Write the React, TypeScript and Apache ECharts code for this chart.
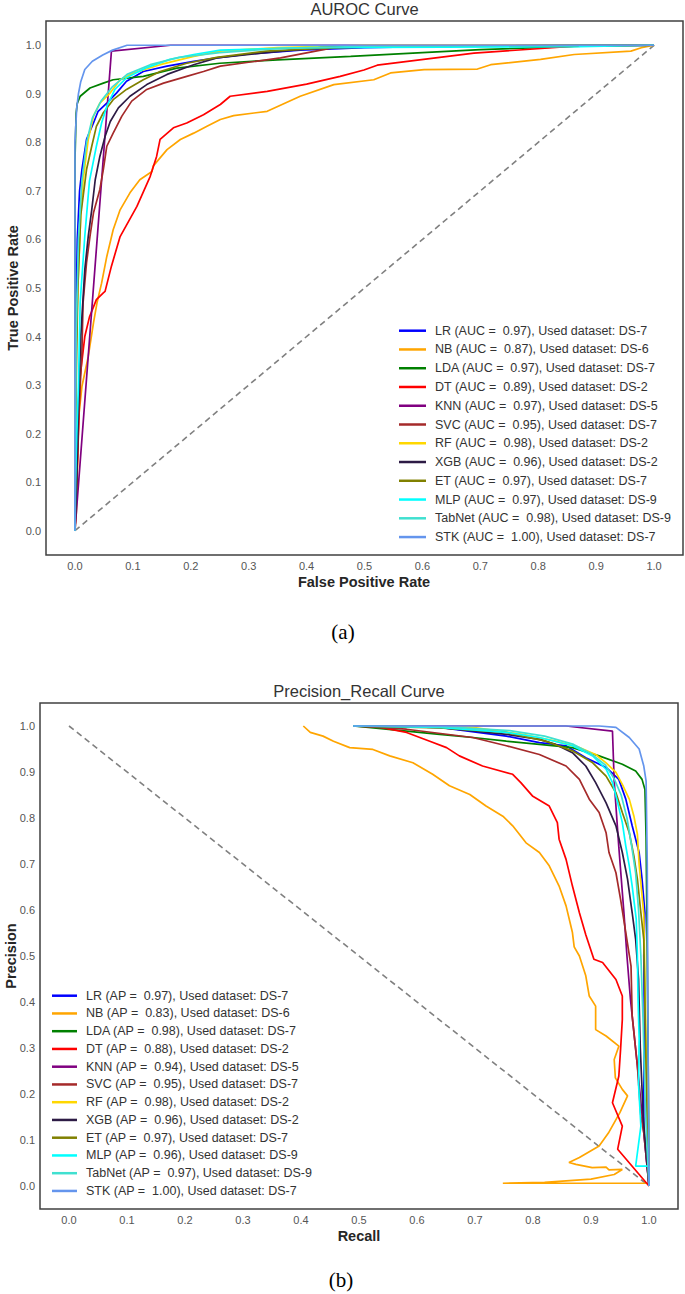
import React, { useEffect, useRef } from "react";
import * as echarts from "echarts";

const models = ["LR", "NB", "LDA", "DT", "KNN", "SVC", "RF", "XGB", "ET", "MLP", "TabNet", "STK"];
const colors = ["#0000FF", "#FFA500", "#008000", "#FF0000", "#800080", "#A52A2A", "#FFD700", "#2D1B45", "#808000", "#00FFFF", "#40E0D0", "#6495ED"];
const aucValues = ["0.97", "0.87", "0.97", "0.89", "0.97", "0.95", "0.98", "0.96", "0.97", "0.97", "0.98", "1.00"];
const apValues = ["0.97", "0.83", "0.98", "0.88", "0.94", "0.95", "0.98", "0.96", "0.97", "0.96", "0.97", "1.00"];
const datasets = ["DS-7", "DS-6", "DS-7", "DS-2", "DS-5", "DS-7", "DS-2", "DS-2", "DS-7", "DS-9", "DS-9", "DS-7"];
const tickValues = [0, 0.1, 0.2, 0.3, 0.4, 0.5, 0.6, 0.7, 0.8, 0.9, 1.0];

// ROC curves [FPR, TPR]
const rocLR = [[0,0],[0,0.2],[0.002,0.45],[0.004,0.6],[0.008,0.7],[0.012,0.744],[0.02,0.806],[0.032,0.84],[0.04,0.864],[0.055,0.881],[0.072,0.902],[0.089,0.926],[0.118,0.946],[0.159,0.957],[0.205,0.967],[0.245,0.974],[0.3,0.982],[0.389,0.99],[0.5,0.995],[0.6,0.997],[0.75,0.999],[1,1]];
const rocNB = [[0,0],[0.002,0.03],[0.003,0.057],[0.006,0.229],[0.012,0.297],[0.023,0.359],[0.032,0.428],[0.038,0.469],[0.046,0.51],[0.055,0.565],[0.066,0.62],[0.078,0.661],[0.095,0.696],[0.112,0.723],[0.133,0.74],[0.135,0.751],[0.159,0.785],[0.182,0.806],[0.205,0.819],[0.228,0.833],[0.251,0.847],[0.274,0.855],[0.332,0.864],[0.389,0.895],[0.447,0.919],[0.516,0.929],[0.545,0.943],[0.603,0.95],[0.695,0.951],[0.718,0.96],[0.804,0.971],[0.862,0.981],[0.96,0.988],[0.978,0.995],[1,1]];
const rocLDA = [[0,0],[0,0.76],[0.002,0.86],[0.004,0.88],[0.009,0.895],[0.026,0.912],[0.049,0.922],[0.066,0.929],[0.118,0.936],[0.176,0.953],[0.25,0.963],[0.35,0.97],[0.476,0.977],[0.6,0.985],[0.7,0.991],[0.874,0.998],[1,1]];
const rocDT = [[0,0],[0.003,0.1],[0.006,0.2],[0.009,0.318],[0.017,0.4],[0.025,0.44],[0.037,0.476],[0.049,0.49],[0.052,0.493],[0.063,0.545],[0.078,0.606],[0.107,0.668],[0.13,0.73],[0.141,0.771],[0.147,0.806],[0.17,0.83],[0.193,0.84],[0.222,0.857],[0.251,0.878],[0.268,0.895],[0.332,0.905],[0.4,0.92],[0.458,0.936],[0.499,0.949],[0.522,0.959],[0.689,0.984],[0.862,0.998],[1,1]];
const rocKNN = [[0,0],[0.063,0.988],[0.165,1],[1,1]];
const rocSVC = [[0,0],[0.003,0.1],[0.007,0.25],[0.012,0.366],[0.014,0.469],[0.02,0.552],[0.026,0.607],[0.032,0.655],[0.043,0.703],[0.049,0.744],[0.055,0.792],[0.066,0.819],[0.081,0.854],[0.098,0.885],[0.124,0.909],[0.153,0.922],[0.193,0.936],[0.222,0.946],[0.251,0.957],[0.3,0.965],[0.355,0.974],[0.447,0.995],[0.6,0.998],[1,1]];
const rocRF = [[0,0],[0,0.3],[0.005,0.5],[0.01,0.65],[0.014,0.72],[0.023,0.806],[0.032,0.854],[0.043,0.881],[0.061,0.902],[0.078,0.929],[0.101,0.943],[0.147,0.96],[0.205,0.977],[0.25,0.988],[0.35,0.995],[0.5,1],[1,1]];
const rocXGB = [[0,0],[0.003,0.1],[0.006,0.25],[0.01,0.4],[0.017,0.538],[0.023,0.607],[0.029,0.661],[0.035,0.723],[0.043,0.771],[0.052,0.812],[0.061,0.843],[0.075,0.871],[0.095,0.895],[0.124,0.919],[0.159,0.94],[0.205,0.96],[0.245,0.974],[0.33,0.985],[0.424,0.995],[0.5,0.998],[1,1]];
const rocET = [[0,0],[0.002,0.3],[0.005,0.5],[0.01,0.65],[0.02,0.744],[0.029,0.792],[0.037,0.833],[0.049,0.861],[0.066,0.888],[0.089,0.909],[0.118,0.929],[0.147,0.946],[0.193,0.963],[0.245,0.975],[0.33,0.988],[0.45,0.995],[0.6,0.998],[1,1]];
const rocMLP = [[0,0],[0.001,0.1],[0.003,0.194],[0.006,0.297],[0.009,0.47],[0.017,0.607],[0.025,0.72],[0.037,0.792],[0.046,0.84],[0.055,0.874],[0.069,0.909],[0.089,0.933],[0.124,0.954],[0.164,0.971],[0.205,0.981],[0.251,0.99],[0.4,0.995],[0.87,0.997],[1,1]];
const rocTabNet = [[0,0],[0.002,0.4],[0.006,0.6],[0.012,0.72],[0.02,0.8],[0.03,0.85],[0.045,0.885],[0.065,0.915],[0.09,0.94],[0.13,0.96],[0.18,0.975],[0.25,0.985],[0.35,0.993],[0.5,0.998],[1,1]];
const rocSTK = [[0,0],[0,0.8],[0.003,0.87],[0.006,0.9],[0.01,0.925],[0.017,0.95],[0.03,0.967],[0.048,0.98],[0.065,0.99],[0.09,1],[1,1]];
const rocChance = [[0,0],[1,1]];

// Precision-Recall curves [Recall, Precision]
const prLR = [[0.49,1],[0.639,0.997],[0.754,0.978],[0.811,0.964],[0.857,0.957],[0.891,0.931],[0.926,0.91],[0.948,0.884],[0.96,0.841],[0.971,0.783],[0.983,0.725],[0.988,0.667],[0.993,0.594],[0.991,0.5],[0.992,0.35],[0.991,0.2],[0.991,0.123],[1,0]];
const prNB = [[0.404,1],[0.416,0.986],[0.438,0.978],[0.456,0.967],[0.484,0.953],[0.524,0.949],[0.553,0.935],[0.593,0.92],[0.627,0.895],[0.656,0.87],[0.691,0.851],[0.719,0.826],[0.748,0.804],[0.765,0.783],[0.788,0.746],[0.811,0.725],[0.828,0.696],[0.845,0.652],[0.857,0.609],[0.868,0.551],[0.871,0.52],[0.88,0.5],[0.891,0.457],[0.897,0.413],[0.908,0.391],[0.908,0.34],[0.926,0.326],[0.948,0.304],[0.94,0.275],[0.942,0.235],[0.954,0.21],[0.963,0.196],[0.95,0.16],[0.93,0.115],[0.914,0.087],[0.88,0.062],[0.862,0.051],[0.874,0.047],[0.902,0.04],[0.926,0.041],[0.931,0.035],[0.954,0.036],[0.94,0.025],[0.9,0.015],[0.82,0.008],[0.748,0.006],[1,0.006]];
const prLDA = [[0.49,1],[0.582,0.989],[0.639,0.982],[0.696,0.975],[0.754,0.967],[0.811,0.96],[0.868,0.953],[0.914,0.935],[0.954,0.917],[0.977,0.902],[0.988,0.884],[0.993,0.862],[0.995,0.757],[0.997,0.5],[0.999,0.2],[1,0]];
const prDT = [[0.49,1],[0.524,1],[0.582,0.986],[0.622,0.967],[0.651,0.953],[0.673,0.935],[0.713,0.913],[0.765,0.895],[0.779,0.877],[0.799,0.848],[0.828,0.826],[0.842,0.79],[0.845,0.754],[0.857,0.71],[0.868,0.652],[0.88,0.594],[0.891,0.546],[0.905,0.493],[0.92,0.486],[0.943,0.449],[0.954,0.413],[0.954,0.362],[0.951,0.297],[0.948,0.239],[0.937,0.181],[0.954,0.13],[0.946,0.08],[1,0]];
const prKNN = [[0.49,1],[0.857,1],[0.937,0.989],[0.94,0.88],[0.948,0.736],[0.957,0.59],[0.962,0.5],[0.968,0.406],[0.98,0.261],[0.991,0.116],[1,0]];
const prSVC = [[0.49,1],[0.582,0.993],[0.696,0.975],[0.754,0.957],[0.811,0.938],[0.857,0.913],[0.88,0.884],[0.897,0.841],[0.914,0.812],[0.926,0.768],[0.931,0.725],[0.943,0.681],[0.951,0.623],[0.96,0.551],[0.969,0.478],[0.971,0.37],[0.98,0.261],[0.986,0.152],[0.991,0.116],[1,0]];
const prRF = [[0.49,1],[0.696,0.997],[0.782,0.982],[0.839,0.967],[0.88,0.953],[0.908,0.938],[0.926,0.92],[0.943,0.899],[0.954,0.873],[0.966,0.841],[0.974,0.804],[0.98,0.765],[0.983,0.699],[0.991,0.59],[0.993,0.45],[0.995,0.3],[0.997,0.15],[1,0]];
const prXGB = [[0.49,1],[0.639,0.997],[0.754,0.982],[0.811,0.971],[0.839,0.96],[0.868,0.942],[0.891,0.913],[0.908,0.877],[0.926,0.833],[0.943,0.783],[0.954,0.725],[0.963,0.667],[0.971,0.594],[0.977,0.536],[0.982,0.45],[0.985,0.3],[0.99,0.15],[1,0]];
const prET = [[0.49,1],[0.639,0.996],[0.754,0.986],[0.822,0.967],[0.868,0.946],[0.903,0.92],[0.926,0.891],[0.943,0.855],[0.954,0.812],[0.966,0.768],[0.974,0.717],[0.98,0.667],[0.986,0.594],[0.991,0.536],[0.993,0.4],[0.995,0.25],[0.997,0.12],[1,0]];
const prMLP = [[0.49,1],[0.639,0.997],[0.754,0.986],[0.811,0.975],[0.868,0.957],[0.903,0.935],[0.926,0.906],[0.937,0.877],[0.946,0.833],[0.954,0.79],[0.96,0.739],[0.966,0.696],[0.971,0.652],[0.978,0.58],[0.98,0.5],[0.981,0.41],[0.983,0.32],[0.982,0.22],[0.986,0.13],[0.977,0.043],[1,0.043],[1,0]];
const prTabNet = [[0.49,1],[0.65,0.998],[0.76,0.99],[0.82,0.978],[0.87,0.96],[0.9,0.94],[0.925,0.915],[0.94,0.885],[0.952,0.85],[0.962,0.8],[0.97,0.74],[0.977,0.68],[0.982,0.6],[0.986,0.5],[0.99,0.35],[0.993,0.2],[0.996,0.1],[1,0]];
const prSTK = [[0.49,1],[0.914,1],[0.943,0.997],[0.966,0.975],[0.983,0.95],[0.991,0.913],[0.995,0.88],[0.997,0.7],[0.998,0.4],[1,0]];
const prChance = [[0,1],[1,0]];

const rocData = [rocLR, rocNB, rocLDA, rocDT, rocKNN, rocSVC, rocRF, rocXGB, rocET, rocMLP, rocTabNet, rocSTK];
const prData = [prLR, prNB, prLDA, prDT, prKNN, prSVC, prRF, prXGB, prET, prMLP, prTabNet, prSTK];

const SANS = "'Liberation Sans', Arial, sans-serif";
const SERIF = "'Liberation Serif', 'Times New Roman', serif";

function valueAxis(gridIndex: number) {
  return {
    type: "value", gridIndex, min: -0.05, max: 1.05,
    axisLine: { show: false }, axisTick: { show: false }, splitLine: { show: false },
    axisLabel: { customValues: tickValues, formatter: (v: number) => v.toFixed(1), color: "#555", fontSize: 11, fontFamily: SANS, margin: 5 },
  };
}

function label(text: string, x: number, y: number, opts: any = {}) {
  return {
    type: "text", x, y, rotation: opts.rotation || 0, silent: true,
    style: {
      text, fill: opts.fill || "#333", fontSize: opts.fontSize || 14, fontWeight: opts.fontWeight || "normal",
      fontFamily: opts.fontFamily || SANS, align: "center", verticalAlign: "middle",
      textAlign: "center", textVerticalAlign: "middle",
    },
  };
}

export default function App() {
  const ref = useRef<HTMLDivElement>(null);
  useEffect(() => {
    if (!ref.current) return;
    const chart = echarts.init(ref.current, null, { renderer: "svg" });
    const rocNames = models.map((m, i) => `${m} (AUC =  ${aucValues[i]}), Used dataset: ${datasets[i]}`);
    const prNames = models.map((m, i) => `${m} (AP =  ${apValues[i]}), Used dataset: ${datasets[i]}`);
    const series: any[] = [];
    series.push({ type: "line", name: "chance-roc", xAxisIndex: 0, yAxisIndex: 0, data: rocChance, symbol: "none", silent: true, lineStyle: { color: "#808080", width: 1.6, type: [6, 4] } });
    series.push({ type: "line", name: "chance-pr", xAxisIndex: 1, yAxisIndex: 1, data: prChance, symbol: "none", silent: true, lineStyle: { color: "#808080", width: 1.6, type: [6, 4] } });
    models.forEach((m, i) => {
      series.push({ type: "line", name: rocNames[i], xAxisIndex: 0, yAxisIndex: 0, data: rocData[i], symbol: "none", color: colors[i], itemStyle: { color: colors[i] }, lineStyle: { color: colors[i], width: 1.7 } });
    });
    models.forEach((m, i) => {
      series.push({ type: "line", name: prNames[i], xAxisIndex: 1, yAxisIndex: 1, data: prData[i], symbol: "none", color: colors[i], itemStyle: { color: colors[i] }, lineStyle: { color: colors[i], width: 1.7 } });
    });
    const legendBase = {
      orient: "vertical", icon: "rect", itemWidth: 27, itemHeight: 2.5, padding: 0, selectedMode: false,
      textStyle: { fontSize: 12.5, color: "#333", fontFamily: SANS, lineHeight: 15, padding: [0, 0, 0, 4] },
    };
    chart.setOption({
      animation: false,
      backgroundColor: "#ffffff",
      grid: [
        { left: 46, top: 21, width: 637, height: 534, show: true, borderColor: "#404040", borderWidth: 1.5, backgroundColor: "transparent" },
        { left: 40, top: 703, width: 638, height: 506, show: true, borderColor: "#404040", borderWidth: 1.5, backgroundColor: "transparent" },
      ],
      xAxis: [valueAxis(0), valueAxis(1)],
      yAxis: [valueAxis(0), valueAxis(1)],
      legend: [
        { ...legendBase, data: rocNames, left: 399, top: 323.2, itemGap: 3.76 },
        { ...legendBase, data: prNames, left: 52, itemWidth: 25, top: 988.2, itemGap: 2.75 },
      ],
      graphic: [
        label("AUROC Curve", 364.5, 8.5, { fontSize: 16.5, fill: "#333" }),
        label("False Positive Rate", 364, 582, { fontSize: 14.5, fontWeight: "bold", fill: "#262626" }),
        label("True Positive Rate", 12.5, 288, { fontSize: 14.5, fontWeight: "bold", fill: "#262626", rotation: Math.PI / 2 }),
        label("(a)", 343, 632, { fontSize: 21, fill: "#000", fontFamily: SERIF }),
        label("Precision_Recall Curve", 359, 691, { fontSize: 16.5, fill: "#333" }),
        label("Recall", 359, 1236, { fontSize: 14.5, fontWeight: "bold", fill: "#262626" }),
        label("Precision", 10.5, 956, { fontSize: 14.5, fontWeight: "bold", fill: "#262626", rotation: Math.PI / 2 }),
        label("(b)", 341, 1280, { fontSize: 21, fill: "#000", fontFamily: SERIF }),
      ],
      series,
    });
    return () => chart.dispose();
  }, []);
  return <div ref={ref} style={{ position: "absolute", left: 0, top: 0, width: 685, height: 1294 }} />;
}
